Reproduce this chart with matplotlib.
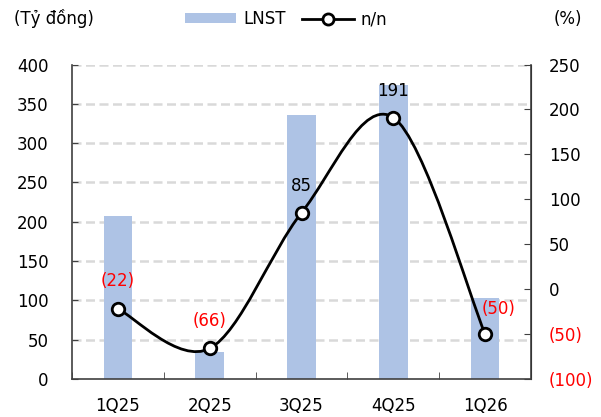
import numpy as np
import matplotlib
matplotlib.use("Agg")
import matplotlib.pyplot as plt
from matplotlib.path import Path
from matplotlib.patches import PathPatch
from matplotlib.lines import Line2D
from matplotlib.patches import Patch

categories = ["1Q25", "2Q25", "3Q25", "4Q25", "1Q26"]
lnst = [207, 34, 336, 374, 103]
yoy = [-22, -66, 85, 191, -50]
yoy_labels = ["(22)", "(66)", "85", "191", "(50)"]
left_ticks = [0, 50, 100, 150, 200, 250, 300, 350, 400]
right_ticks = [-100, -50, 0, 50, 100, 150, 200, 250]
right_tick_labels = ["(100)", "(50)", "0", "50", "100", "150", "200", "250"]

plt.rcParams['font.family'] = ['DejaVu Sans']
FS = 12
fig = plt.figure(figsize=(6.01, 4.17), dpi=100)
ax = fig.add_axes([72/601, (417-379)/417, (531-72)/601, (379-64.5)/417])
ax2 = ax.twinx()

x = np.arange(len(categories))
ax.bar(x, lnst, width=0.31, color="#AEC3E5", zorder=2)
ax.set_xlim(-0.5, len(categories)-0.5)
ax.set_ylim(0, 400)
ax.set_yticks(left_ticks)
ax.set_xticks(x)
ax.set_xticklabels(categories, fontsize=FS)
ax.tick_params(axis='x', length=0, pad=13)
ax.set_xticks(np.arange(len(categories)+1) - 0.5, minor=True)
ax.tick_params(axis='x', which='minor', direction='in', length=5, color="#404040")
ax.tick_params(axis='y', direction='in', length=4, labelsize=FS, color="#404040", pad=17)
for v in left_ticks[1:]:
    ax.axhline(v, color="#D9D9D9", lw=1.8, ls=(0, (3.6, 1.8)), zorder=1)
ax.spines["top"].set_visible(False)
for s in ["left", "bottom"]:
    ax.spines[s].set_color("#404040")
    ax.spines[s].set_linewidth(1.2)
ax2.spines["top"].set_visible(False)
ax2.spines["right"].set_color("#404040")
ax2.spines["right"].set_linewidth(1.2)
ax2.spines["left"].set_visible(False)
ax2.spines["bottom"].set_visible(False)

ax2.set_ylim(-100, 250)
ax2.set_yticks(right_ticks)
ax2.set_yticklabels(right_tick_labels, fontsize=FS)
ax2.tick_params(axis='y', direction='in', length=5, color="#404040", pad=13)
for lab, v in zip(ax2.get_yticklabels(), right_ticks):
    lab.set_color("red" if v < 0 else "black")

# smooth (Excel-like) curve through the points, computed in display space
pts = ax2.transData.transform(np.column_stack([x, yoy]))
n = len(pts)
verts = [pts[0]]
codes = [Path.MOVETO]
for i in range(n-1):
    p0 = pts[i-1] if i > 0 else pts[i]
    p1 = pts[i]
    p2 = pts[i+1]
    p3 = pts[i+2] if i+2 < n else pts[i+1]
    c1 = p1 + (p2 - p0) / 6.0
    c2 = p2 - (p3 - p1) / 6.0
    verts += [c1, c2, p2]
    codes += [Path.CURVE4]*3
inv = ax2.transData.inverted()
verts = inv.transform(np.array(verts))
path = Path(verts, codes)
ax2.add_patch(PathPatch(path, fill=False, edgecolor="black", lw=2.0, zorder=3))
ax2.plot(x, yoy, ls="none", marker="o", ms=9, mfc="white", mec="black", mew=2.0, zorder=4)

offsets = [(0, 20), (0, 20), (0, 19), (0, 19), (10, 18)]
for xi, yi, lab, off in zip(x, yoy, yoy_labels, offsets):
    ax2.annotate(lab, (xi, yi), xytext=off, textcoords="offset points",
                 ha="center", va="center", fontsize=FS,
                 color="red" if yi < 0 else "black", zorder=5)

fig.text(14/601, 1-19/417, "(Tỷ đồng)", fontsize=FS, va="center", ha="left")
fig.text(582/601, 1-19/417, "(%)", fontsize=FS, va="center", ha="right")

handles = [Patch(facecolor="#AEC3E5"),
           Line2D([0], [0], color="black", lw=2.0, marker="o", ms=8,
                  mfc="white", mec="black", mew=2.0)]
fig.legend(handles, ["LNST", "n/n"], loc="center", bbox_to_anchor=(286/601, 1-19/417),
           ncol=2, frameon=False, fontsize=FS, handlelength=3.1, handleheight=0.5,
           columnspacing=1.0, handletextpad=0.4)

fig.savefig("out.png", dpi=100)
